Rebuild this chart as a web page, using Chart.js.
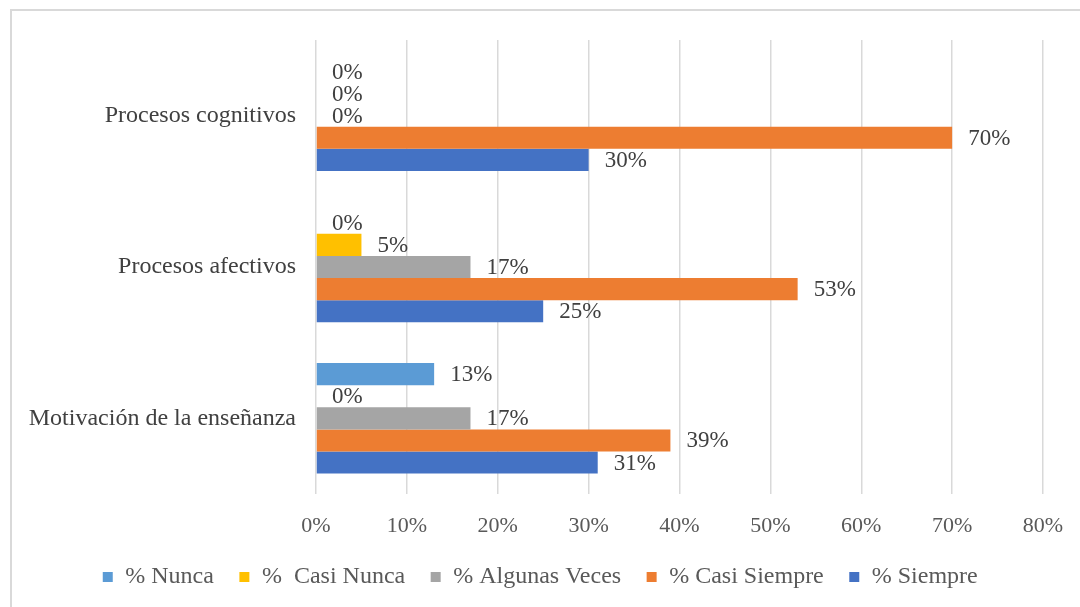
<!DOCTYPE html>
<html>
<head>
<meta charset="utf-8">
<script src="https://cdn.jsdelivr.net/npm/chart.js@4/dist/chart.umd.min.js"></script>
<style>
  html, body { margin: 0; padding: 0; background: #fff; }
  #wrap { width: 1080px; height: 607px; position: relative; }
</style>
</head>
<body>
<div id="wrap"><canvas id="chart"></canvas></div>
<script>
// categories (top to bottom)
const categories = ['Procesos cognitivos', 'Procesos afectivos', 'Motivación de la enseñanza'];

// series values in percent, one value per category
const nunca = [0, 0, 13];
const casiNunca = [0, 5, 0];
const algunasVeces = [0, 17, 17];
const casiSiempre = [70, 53, 39];
const siempre = [30, 25, 31];

const seriesNames = ['% Nunca', '%  Casi Nunca', '% Algunas Veces', '% Casi Siempre', '% Siempre'];
const seriesColors = ['#5B9BD5', '#FFC000', '#A5A5A5', '#ED7D31', '#4472C4'];
const seriesData = [nunca, casiNunca, algunasVeces, casiSiempre, siempre];

const xTicks = [0, 10, 20, 30, 40, 50, 60, 70, 80];

const FONT = "'Liberation Serif', 'Times New Roman', serif";

// frame round the whole chart
const framePlugin = {
  id: 'frame',
  beforeDraw(chart) {
    const ctx = chart.ctx;
    ctx.save();
    ctx.fillStyle = '#fff';
    ctx.fillRect(0, 0, chart.width, chart.height);
    ctx.strokeStyle = '#d9d9d9';
    ctx.lineWidth = 2;
    ctx.strokeRect(11, 10, chart.width + 20, chart.height + 20);
    ctx.restore();
  }
};

// value labels at the end of each bar
const valueLabels = {
  id: 'valueLabels',
  afterDatasetsDraw(chart) {
    const ctx = chart.ctx;
    ctx.save();
    ctx.font = '23px ' + FONT;
    ctx.fillStyle = '#404040';
    ctx.textAlign = 'left';
    ctx.textBaseline = 'middle';
    chart.data.datasets.forEach((ds, i) => {
      const meta = chart.getDatasetMeta(i);
      meta.data.forEach((bar, j) => {
        ctx.fillText(ds.data[j] + '%', bar.x + 16, bar.y + 1);
      });
    });
    ctx.restore();
  }
};

const chart = new Chart(document.getElementById('chart'), {
  type: 'bar',
  data: {
    labels: categories,
    datasets: seriesNames.map((name, i) => ({
      label: name,
      data: seriesData[i],
      backgroundColor: seriesColors[i],
      borderWidth: 0,
      categoryPercentage: 0.73,
      barPercentage: 1.0
    }))
  },
  options: {
    indexAxis: 'y',
    responsive: true,
    maintainAspectRatio: false,
    animation: false,
    layout: { padding: { left: 0, right: 0, top: 40, bottom: 8 } },
    scales: {
      x: {
        min: 0,
        max: 80,
        afterBuildTicks(scale) {
          scale.ticks = xTicks.map(v => ({ value: v }));
        },
        grid: { color: '#d9d9d9', lineWidth: 1.5, drawTicks: false },
        border: { display: false },
        ticks: {
          font: { family: FONT, size: 22 },
          color: '#595959',
          padding: 19,
          maxRotation: 0,
          callback: v => v + '%'
        },
        afterFit(scale) {
          scale.height = 58;
          scale.paddingRight = 37;
        }
      },
      y: {
        grid: { display: false, drawTicks: false },
        border: { display: false },
        ticks: {
          font: { family: FONT, size: 24 },
          color: '#404040',
          padding: 20
        },
        afterFit(scale) { scale.width = 316; }
      }
    },
    plugins: {
      legend: {
        position: 'bottom',
        labels: {
          font: { family: FONT, size: 24 },
          color: '#595959',
          usePointStyle: true,
          pointStyle: 'rect',
          boxWidth: 11,
          boxHeight: 10,
          padding: 13,
          // a little extra room after each entry, as in the original legend
          generateLabels(chart) {
            const items = Chart.defaults.plugins.legend.labels.generateLabels(chart);
            items.forEach((item, i) => {
              if (i < items.length - 1) item.text += '  ';
            });
            return items;
          }
        }
      },
      tooltip: { enabled: false }
    }
  },
  plugins: [framePlugin, valueLabels]
});
</script>
</body>
</html>
